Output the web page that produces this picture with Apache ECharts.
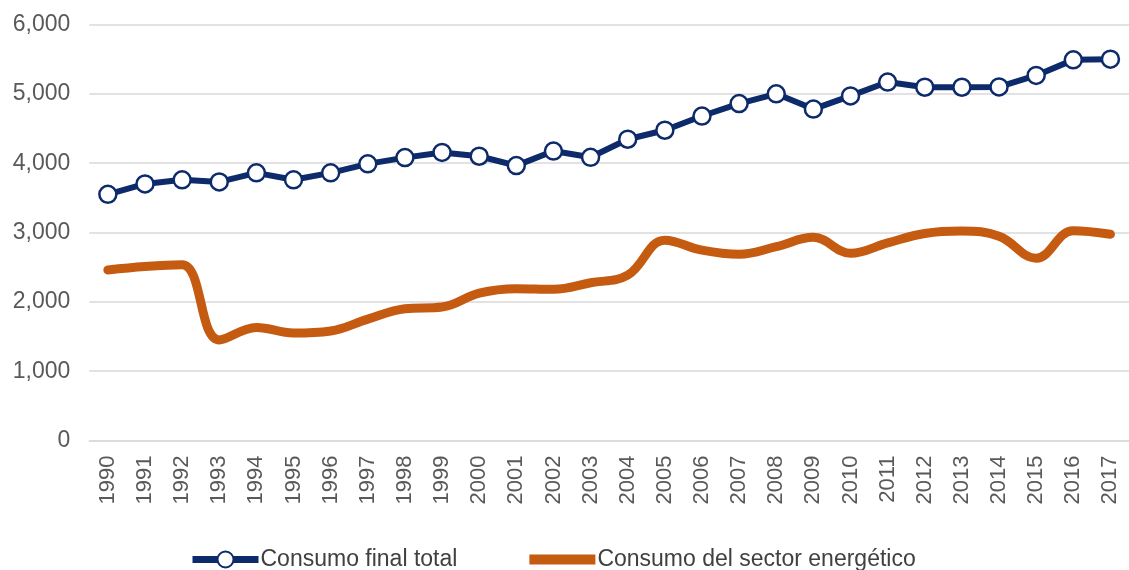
<!DOCTYPE html>
<html><head><meta charset="utf-8">
<script src="https://cdn.jsdelivr.net/npm/echarts@6/dist/echarts.min.js"></script>
<style>html,body{margin:0;padding:0;background:#fff}#c{width:1129px;height:570px}</style>
</head><body><div id="c"></div>
<script>
const years = ['1990','1991','1992','1993','1994','1995','1996','1997','1998','1999','2000','2001','2002','2003','2004','2005','2006','2007','2008','2009','2010','2011','2012','2013','2014','2015','2016','2017'];
const consumoFinal = [3550,3700,3760,3730,3860,3760,3860,3990,4080,4155,4100,3965,4175,4085,4345,4475,4680,4860,5000,4780,4970,5170,5095,5095,5100,5265,5490,5500];
const consumoSector = [2460,2510,2535,1450,1630,1550,1580,1750,1900,1925,2125,2190,2180,2275,2385,2890,2745,2685,2795,2930,2700,2850,2985,3020,2945,2630,3025,2975];
const seriesNames = ['Consumo final total','Consumo del sector energético'];

const chart = echarts.init(document.getElementById('c'), null, {renderer:'canvas'});
chart.setOption({
  animation:false,
  textStyle:{fontFamily:'Liberation Sans, Arial, sans-serif'},
  grid:{left:89.3, right:-10.3, top:24.5, bottom:129.5, containLabel:false},
  legend:{
    top:548, left:189, padding:0, itemGap:72, itemWidth:66, itemHeight:20,
    textStyle:{fontSize:23, color:'#404040', padding:[0,0,0,-3]},
    data:[
      {name:seriesNames[0], lineStyle:{width:7, color:'#0d2a6b'}},
      {name:seriesNames[1], icon:'path://M0,0 L0.01,0 M0,5 L66,5 L66,15 L0,15 Z M0,20 L0.01,20', itemStyle:{color:'#c55a11'}}
    ]
  },
  xAxis:{
    type:'category', data:years, boundaryGap:true,
    axisLine:{lineStyle:{color:'#d9d9d9', width:1.5}},
    axisTick:{show:false},
    axisLabel:{rotate:90, color:'#595959', fontSize:22, margin:15, interval:0}
  },
  yAxis:{
    type:'value', min:0, max:6000, interval:1000,
    axisLine:{show:false}, axisTick:{show:false},
    splitLine:{lineStyle:{color:'#d9d9d9', width:1.5}},
    axisLabel:{color:'#595959', fontSize:23, margin:19,
      formatter:v=>v.toLocaleString('en-US')}
  },
  series:[
    {name:seriesNames[0], type:'line', data:consumoFinal,
      lineStyle:{color:'#0d2a6b', width:6},
      itemStyle:{color:'#ffffff', borderColor:'#0d2a6b', borderWidth:2.5},
      symbol:'circle', symbolSize:17, z:3},
    {name:seriesNames[1], type:'line', data:consumoSector, smooth:0.4,
      lineStyle:{color:'#c55a11', width:9, cap:'round'},
      itemStyle:{color:'#c55a11'},
      showSymbol:false, symbol:'none', z:2}
  ]
});
</script></body></html>
